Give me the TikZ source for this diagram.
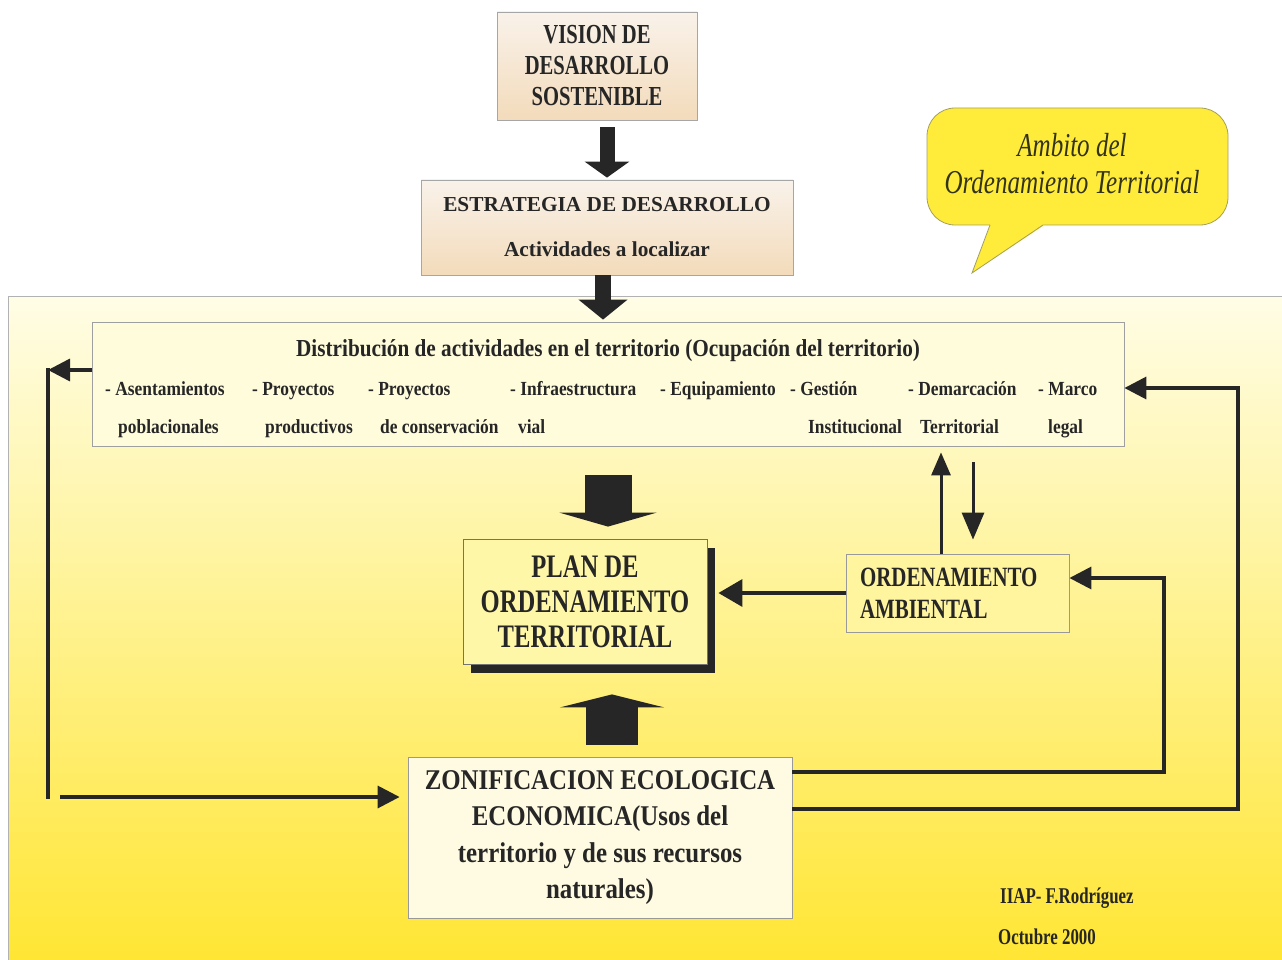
\documentclass[tikz,border=0pt]{standalone}
\usepackage{fontspec}
\setmainfont{Liberation Serif}
\newfontfamily\fs{Liberation Serif}[FakeStretch=0.75]
\newfontfamily\fm{Liberation Serif}[FakeStretch=0.87]
\usetikzlibrary{arrows.meta,shadows,calc}
\definecolor{ink}{HTML}{262626}
\definecolor{tanL}{HTML}{F9F2EA}
\definecolor{tanD}{HTML}{F3DBBB}
\definecolor{panT}{HTML}{FFFDE6}
\definecolor{panM}{HTML}{FFF6A6}
\definecolor{panB}{HTML}{FFE634}
\definecolor{distF}{HTML}{FFFCDC}
\definecolor{planF}{HTML}{FFF7A8}
\definecolor{ordF}{HTML}{FFF59E}
\definecolor{zeeF}{HTML}{FFFBE2}
\definecolor{callF}{HTML}{FFEC3A}
\definecolor{callD}{HTML}{A3A05E}
\definecolor{callT}{HTML}{33331A}
\begin{document}
\begin{tikzpicture}[x=1pt,y=-1pt,
  tanbox/.style={draw=gray!70, line width=0.8pt, top color=tanL, bottom color=tanD, inner sep=0, align=center, text=ink},
  plainbox/.style={draw=gray!80, line width=0.8pt, inner sep=0, align=center, text=ink},
  item/.style={anchor=base west, font=\fm\bfseries\fontsize{20}{24}\selectfont, text=ink, inner sep=0},
  fat/.style={draw=ink, line width=#1},
  conn/.style={draw=ink, line width=3.5pt, -{Triangle[length=22pt,width=22pt]}},
  thin conn/.style={draw=ink, line width=3pt},
]
\fill[white] (0,0) rectangle (1282,960);
\useasboundingbox (0,0) rectangle (1282,960);

% panel
\shade[top color=panT, middle color=panM, bottom color=panB] (8,296) rectangle (1282,960);
\draw[gray!60, line width=0.8pt] (8,960) -- (8,296) -- (1282,296);

% callout
\filldraw[fill=callF, draw=callD, line width=0.8pt, rounded corners=28pt] (927,108) rectangle (1228,225);
\fill[callF] (990,222) -- (1043,222) -- (1043,226) -- (972,273) -- (990,226) -- cycle;
\draw[callD, line width=0.8pt] (990,225) -- (972,273) -- (1043,225);
\node[text=callT, align=center, inner sep=0, font=\fs\itshape\fontsize{33.4}{37}\selectfont] (callout) at (1072,164) {Ambito del\\Ordenamiento Territorial};

% top boxes
\node[tanbox, minimum width=200pt, minimum height=108pt, font=\fs\bfseries\fontsize{27.5}{31}\selectfont] (vision) at (597,66) {VISION DE\\DESARROLLO\\SOSTENIBLE};
\node[tanbox, minimum width=372pt, minimum height=95pt, font=\bfseries\fontsize{21.3}{45}\selectfont] (estr) at (607,227.5) {ESTRATEGIA DE DESARROLLO\\Actividades a localizar};

% distribution box
\node[plainbox, fill=distF, draw=gray!75, minimum width=1032pt, minimum height=124pt] (dist) at (608,384) {};
\node[anchor=base, inner sep=0, text=ink, font=\fm\bfseries\fontsize{24.4}{28}\selectfont] (dtitle) at (608,356) {Distribución de actividades en el territorio (Ocupación del territorio)};
\node[item] (i1a) at (105,395) {- Asentamientos};
\node[item] (i1b) at (118,433) {poblacionales};
\node[item] (i2a) at (252,395) {- Proyectos};
\node[item] (i2b) at (265,433) {productivos};
\node[item] (i3a) at (368,395) {- Proyectos};
\node[item] (i3b) at (380,433) {de conservación};
\node[item] (i4a) at (510,395) {- Infraestructura};
\node[item] (i4b) at (518,433) {vial};
\node[item] (i5a) at (660,395) {- Equipamiento};
\node[item] (i6a) at (790,395) {- Gestión};
\node[item] (i6b) at (808,433) {Institucional};
\node[item] (i7a) at (908,395) {- Demarcación};
\node[item] (i7b) at (920,433) {Territorial};
\node[item] (i8a) at (1038,395) {- Marco};
\node[item] (i8b) at (1048,433) {legal};

% plan
\node[plainbox, fill=planF, draw=gray!90!black, minimum width=244pt, minimum height=125pt,
  drop shadow={shadow xshift=8pt, shadow yshift=-9pt, fill=ink, opacity=1},
  font=\fs\bfseries\fontsize{32.8}{35}\selectfont] (plan) at (585,601.5) {PLAN DE\\ORDENAMIENTO\\TERRITORIAL};

% ordenamiento ambiental
\node[plainbox, fill=ordF, minimum height=78pt, text width=195pt, inner xsep=14pt, align=left,
  font=\fs\bfseries\fontsize{27.9}{32}\selectfont] (ord) at (957.5,593) {ORDENAMIENTO\\AMBIENTAL};

% ZEE
\node[plainbox, fill=zeeF, minimum width=384pt, minimum height=161pt,
  font=\fm\bfseries\fontsize{28.6}{36.3}\selectfont] (zee) at (600,837.5) {ZONIFICACION ECOLOGICA\\ECONOMICA(Usos del\\territorio y de sus recursos\\naturales)};

% credits
\node[anchor=west, inner sep=0, text=ink, font=\fs\bfseries\fontsize{22.5}{26}\selectfont] (cred1) at (1000,898) {IIAP- F.Rodríguez};
\node[anchor=west, inner sep=0, text=ink, font=\fs\bfseries\fontsize{22.5}{26}\selectfont] (cred2) at (998,937) {Octubre 2000};

% fat arrows
\draw[fat=15pt, -{Triangle[length=16pt,width=44pt]}, shorten <=7pt, shorten >=2pt] (vision.south -| estr.north) -- (estr.north);
\draw[fat=16pt, -{Triangle[length=20pt,width=48pt]}, shorten >=2pt] ([xshift=-4pt]estr.south) -- ([xshift=-4pt]estr.south |- dist.north);
\draw[fat=47pt, -{Triangle[length=14pt,width=97pt]}, shorten <=29pt, shorten >=12pt] (dist.south) -- (dist.south |- plan.north);
\draw[fat=52pt, -{Triangle[length=13pt,width=104pt]}, shorten <=12pt, shorten >=30pt] ([xshift=12pt]zee.north) -- ([xshift=12pt]zee.north |- plan.south);

% connectors
\coordinate (L1) at (48,370);
\coordinate (L0) at (48,368);
\coordinate (L2) at (48,799);
\coordinate (L3) at (60,797);
\draw[conn] (dist.west |- L1) -- (L1);
\draw[thin conn, line width=3.5pt] (L0) -- (L2);
\draw[conn, shorten >=8pt] (L3) -- (zee.west |- L3);

\coordinate (r1) at (1164,772);
\coordinate (r2) at (1164,578);
\draw[conn] (zee.east |- r1) -- (r1) -- (r2) -- (ord.east |- r2);

\coordinate (r3) at (1238,809);
\coordinate (r4) at (1238,388);
\draw[conn] (zee.east |- r3) -- (r3) -- (r4) -- (dist.east |- r4);

\draw[conn, -{Triangle[length=24pt,width=27pt]}, shorten >=11pt] (ord.west) -- (plan.east |- ord.west);

\coordinate (u) at (941,500);
\coordinate (d) at (973,500);
\draw[thin conn, -{Triangle[length=23pt,width=19pt]}, shorten >=6pt] (ord.north -| u) -- (dist.south -| u);
\draw[thin conn, -{Triangle[length=27pt,width=22pt]}, shorten <=16pt, shorten >=14pt] (dist.south -| d) -- (ord.north -| d);
\end{tikzpicture}
\end{document}
